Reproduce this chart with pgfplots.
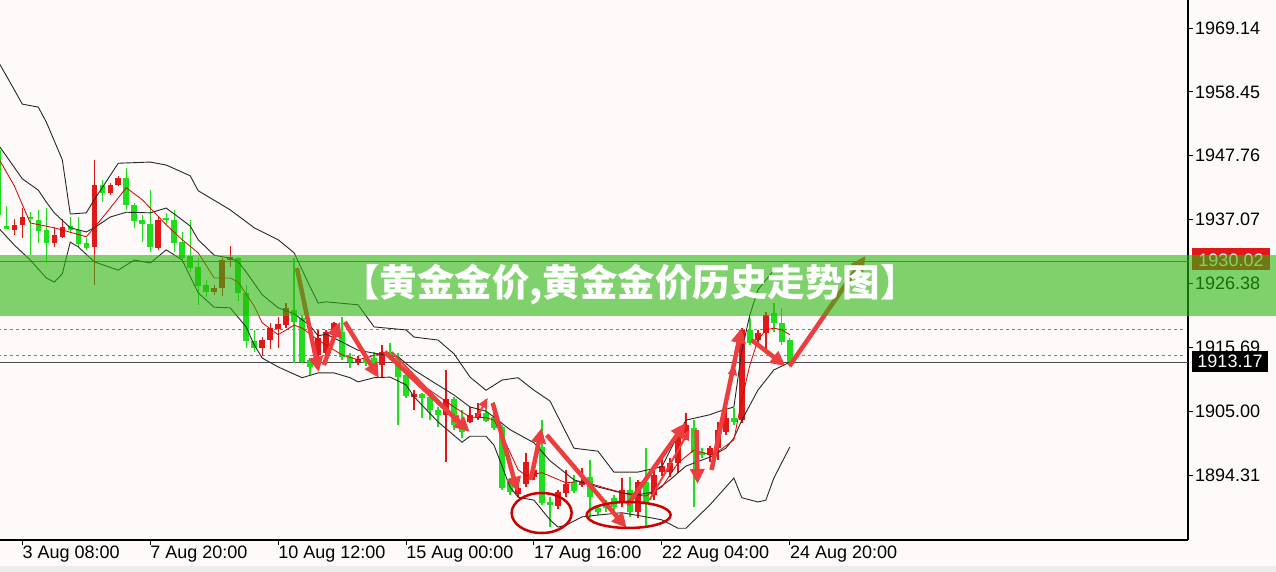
\documentclass[border=0pt]{standalone}
\usepackage{pgfplots}
\pgfplotsset{compat=1.18}
\usepackage{pgfplotstable}
\usepackage{fontspec}
\setmainfont{Liberation Sans}
\newfontfamily\cjk{Noto Sans CJK SC}
\usetikzlibrary{arrows.meta}

\definecolor{bg}{RGB}{253,250,249}
\definecolor{cgreen}{RGB}{30,222,30}
\definecolor{cred}{RGB}{226,24,24}
\definecolor{band}{RGB}{42,183,13}
\definecolor{arr}{RGB}{236,62,62}
\definecolor{bb}{RGB}{40,40,40}
\definecolor{dashc}{RGB}{110,140,110}
\definecolor{lvl}{RGB}{70,120,50}

% i = bar index (4h), lo/hi = wick, bl/bh = body
\pgfplotstableread{
i lo hi bl bh
-3 1935.8 1951.1 1937.8 1948.7
-2 1935.5 1939.4 1935.5 1936.0
1 1931.1 1938.3 1937.1 1937.5
2 1933.2 1938.7 1935.2 1937.0
3 1929.8 1939.0 1933.2 1935.3
6 1934.8 1937.5 1935.3 1936.0
7 1932.5 1937.5 1933.0 1935.3
8 1932.0 1934.0 1932.3 1933.2
10 1940.0 1943.7 1941.5 1942.9
13 1938.7 1945.7 1939.5 1944.0
14 1935.7 1939.9 1936.8 1939.5
15 1933.3 1937.8 1936.3 1937.0
16 1931.6 1942.0 1932.5 1936.3
18 1936.3 1938.2 1937.0 1937.3
19 1931.6 1938.7 1933.2 1937.0
20 1929.8 1935.0 1930.6 1933.3
21 1928.3 1937.0 1929.0 1931.0
22 1922.8 1930.6 1926.0 1929.1
23 1924.1 1927.0 1925.0 1926.1
27 1923.4 1930.8 1924.8 1930.6
28 1915.6 1926.1 1916.8 1924.8
29 1914.9 1918.6 1915.6 1916.8
34 1913.1 1930.6 1919.9 1921.9
35 1913.1 1921.1 1913.2 1920.6
36 1911.1 1913.9 1912.4 1913.6
40 1913.6 1920.8 1914.1 1918.3
41 1912.2 1914.7 1913.2 1914.1
43 1912.6 1914.4 1913.1 1913.7
44 1912.2 1914.9 1912.9 1913.9
46 1913.6 1916.4 1914.1 1914.9
47 1902.7 1914.7 1910.7 1913.9
48 1907.2 1911.6 1907.5 1911.1
50 1903.9 1908.0 1907.2 1907.9
51 1903.5 1907.7 1905.2 1907.4
52 1902.4 1905.7 1904.4 1905.2
54 1901.9 1907.4 1902.7 1907.0
55 1900.5 1905.2 1901.5 1902.4
58 1903.2 1907.0 1903.4 1904.7
59 1901.9 1906.5 1902.2 1904.0
60 1891.8 1902.7 1892.1 1902.4
61 1891.0 1893.8 1891.5 1893.1
65 1889.3 1903.5 1889.6 1899.0
66 1885.6 1890.6 1889.3 1889.8
69 1891.3 1894.3 1891.6 1893.1
71 1887.1 1896.8 1890.6 1894.0
72 1887.6 1889.3 1888.1 1888.8
73 1888.1 1890.1 1888.8 1889.6
74 1888.5 1891.0 1889.0 1890.5
76 1887.3 1894.0 1888.1 1891.8
78 1885.6 1898.8 1889.8 1893.1
84 1889.0 1903.5 1898.0 1902.2
85 1897.2 1898.8 1897.7 1898.2
89 1902.7 1905.5 1903.2 1903.9
91 1916.1 1920.6 1916.4 1918.6
94 1918.3 1923.1 1919.8 1921.4
95 1916.1 1922.3 1916.6 1919.8
96 1912.4 1917.3 1913.2 1916.9
}\greenbars

\pgfplotstableread{
i lo hi bl bh
-1 1934.5 1937.2 1935.3 1936.2
0 1934.0 1939.0 1936.2 1937.5
4 1932.5 1935.8 1933.2 1934.5
5 1934.0 1937.2 1934.2 1935.8
9 1926.1 1947.1 1932.5 1942.9
11 1941.2 1943.2 1941.5 1942.9
12 1942.7 1944.4 1942.9 1944.0
17 1932.0 1937.5 1932.3 1937.0
24 1924.5 1926.1 1925.0 1925.6
25 1924.3 1930.6 1925.6 1930.3
26 1929.1 1932.7 1930.3 1930.8
30 1914.2 1917.4 1915.6 1916.9
31 1915.4 1919.8 1916.9 1918.9
32 1915.6 1920.8 1918.8 1919.6
33 1918.9 1923.1 1919.4 1922.3
37 1913.6 1918.6 1914.4 1917.3
38 1914.1 1918.6 1914.7 1918.3
39 1917.3 1919.9 1917.8 1919.8
42 1912.7 1914.2 1913.2 1913.7
45 1910.7 1916.1 1912.7 1914.9
49 1905.2 1908.5 1907.4 1907.9
53 1896.5 1911.9 1904.4 1907.0
56 1903.0 1905.7 1903.2 1904.4
57 1903.5 1906.4 1903.9 1904.7
62 1890.6 1892.6 1891.1 1892.1
63 1892.3 1898.0 1892.8 1896.5
64 1893.5 1896.0 1894.0 1895.2
67 1888.6 1891.8 1889.1 1891.5
68 1890.6 1895.2 1891.3 1892.8
70 1892.3 1895.5 1892.6 1893.1
75 1889.0 1893.8 1889.8 1891.8
77 1887.1 1893.5 1888.1 1893.1
79 1890.1 1895.7 1891.0 1894.3
80 1894.2 1897.2 1894.8 1895.8
81 1894.0 1897.2 1894.8 1896.3
82 1894.7 1902.4 1896.3 1901.5
83 1900.2 1904.7 1901.4 1902.7
86 1896.5 1899.2 1897.7 1898.8
87 1896.8 1903.2 1898.8 1901.9
88 1901.0 1905.2 1901.5 1903.9
90 1903.0 1918.9 1903.5 1918.6
92 1915.7 1918.6 1916.9 1918.1
93 1914.7 1921.6 1918.1 1921.1
}\redbars

\pgfplotstableread{
i p
-3 1963.5
-1 1958.8
0 1956.4
2 1955.9
3 1953.4
5 1947.1
6 1938.0
8 1938.2
9 1940.4
12 1946.5
16 1946.7
18 1946.2
21 1944.4
22 1941.9
26 1938.7
29 1935.7
32 1933.7
34 1931.5
36 1925.8
37 1923.1
38 1923.3
42 1922.8
44 1919.1
48 1918.6
49 1917.4
52 1916.9
54 1914.6
56 1910.7
58 1908.5
60 1910.2
62 1910.6
64 1908.5
66 1906.7
69 1898.8
72 1898.3
74 1894.8
77 1894.8
80 1895.7
82 1901.0
83 1903.5
86 1904.4
87 1904.9
89 1905.7
90 1915.2
91 1921.1
92 1925.3
94 1928.6
95 1928.3
96 1927.3
}\bbtop

\pgfplotstableread{
i p
-3 1949.6
0 1943.9
2 1942.0
3 1940.0
4 1938.2
6 1935.7
8 1935.0
9 1935.7
11 1937.5
13 1938.3
16 1938.2
18 1939.0
21 1936.0
22 1933.7
24 1931.1
26 1930.6
27 1930.0
28 1928.3
30 1924.5
32 1922.3
34 1921.3
36 1919.3
37 1917.6
38 1917.9
42 1915.2
44 1914.7
47 1914.1
49 1911.9
51 1910.2
54 1907.7
56 1905.7
58 1905.0
59 1904.0
61 1901.9
64 1899.7
66 1896.7
69 1893.5
72 1892.3
75 1891.3
77 1891.0
79 1891.5
81 1893.5
83 1895.8
86 1897.3
88 1898.8
89 1900.5
90 1903.5
92 1908.5
94 1911.9
96 1913.2
}\bbmid

\pgfplotstableread{
i p
-3 1935.7
-1 1932.8
1 1930.3
3 1927.3
4 1926.6
5 1928.0
6 1933.3
7 1932.5
9 1930.0
12 1928.6
14 1930.3
16 1929.8
18 1932.0
20 1930.3
22 1924.8
24 1922.4
26 1922.3
28 1919.1
29 1916.1
30 1913.9
32 1912.4
35 1910.6
37 1911.4
39 1911.4
41 1910.6
42 1909.9
44 1910.6
46 1910.7
48 1909.4
49 1907.4
52 1903.2
55 1899.8
56 1900.8
58 1900.8
59 1899.3
61 1892.3
62 1890.6
64 1890.1
66 1886.8
67 1885.6
68 1885.9
70 1887.3
72 1887.6
75 1888.0
78 1887.3
80 1886.8
82 1885.4
83 1885.4
86 1889.3
88 1892.3
89 1893.8
90 1890.5
92 1889.8
93 1890.1
94 1893.8
96 1899.0
}\bbbot

\pgfplotstableread{
i p
-3 1947.4
-1 1942.7
1 1936.5
4 1935.7
8 1934.2
9 1935.7
11 1939.0
13 1942.4
15 1940.4
16 1939.0
18 1936.2
20 1933.7
22 1931.5
24 1927.3
26 1927.3
27 1926.6
29 1922.6
30 1919.8
32 1917.8
34 1919.4
35 1918.9
37 1916.9
40 1914.4
42 1913.6
45 1914.7
47 1913.2
50 1909.4
54 1905.7
56 1904.0
58 1903.9
59 1903.5
60 1901.0
62 1895.2
63 1894.2
65 1894.7
68 1893.0
70 1893.3
73 1892.1
76 1891.0
78 1890.8
80 1892.3
82 1896.3
84 1898.5
86 1897.7
87 1898.2
89 1900.2
90 1907.0
91 1912.7
92 1916.9
93 1918.6
94 1918.9
95 1918.6
96 1917.8
}\maline

\begin{document}
\begin{tikzpicture}
\useasboundingbox (0,0) rectangle (1276bp,572bp);
\fill[bg] (0,0) rectangle (1276bp,572bp);
\fill[black!7] (0,0) rectangle (1276bp,6bp);

\begin{axis}[
    at={(0,32bp)}, anchor=south west,
    scale only axis, width=1188bp, height=540bp,
    xmin=-2.79, xmax=145.8, ymin=1883.43, ymax=1973.83,
    axis x line*=bottom, axis y line*=right,
    axis line style={-, black, line width=1.2bp},
    tick align=outside, major tick length=5bp,
    tick style={black, line width=1bp},
    xtick={0,16,32,48,64,80,96},
    xticklabels={3 Aug 08:00,7 Aug 20:00,10 Aug 12:00,15 Aug 00:00,17 Aug 16:00,22 Aug 04:00,24 Aug 20:00},
    xticklabel style={anchor=north west, xshift=-1bp, inner sep=1bp, font=\fontsize{18bp}{20bp}\selectfont},
    ytick={1894.31,1905.00,1915.69,1926.38,1937.07,1947.76,1958.45,1969.14},
    yticklabels={1894.31,1905.00,1915.69,1926.38,1937.07,1947.76,1958.45,1969.14},
    yticklabel style={anchor=west, inner sep=1bp, xshift=1bp, font=\fontsize{18bp}{20bp}\selectfont},
    candle/.style={draw=none, mark=none, error bars/.cd, y dir=both, y explicit, error mark=none},
]
% price levels
\addplot[dashc, line width=1bp, dash pattern=on 3bp off 3bp] coordinates {(-3,1918.6) (145.4,1918.6)};
\addplot[dashc, line width=1bp, dash pattern=on 3bp off 3bp] coordinates {(-3,1914.4) (145.4,1914.4)};
\addplot[black!70, line width=1.3bp] coordinates {(-3,1913.17) (146,1913.17)};
\addplot[lvl, line width=1.5bp] coordinates {(-3,1930.02) (146,1930.02)};

% candles: wicks, then bodies
\addplot[candle, error bar style={draw=cgreen, line width=1.3bp}]
  table[x=i, y expr={(\thisrow{hi}+\thisrow{lo})/2}, y error expr={(\thisrow{hi}-\thisrow{lo})/2}] {\greenbars};
\addplot[candle, error bar style={draw=cred, line width=1.3bp}]
  table[x=i, y expr={(\thisrow{hi}+\thisrow{lo})/2}, y error expr={(\thisrow{hi}-\thisrow{lo})/2}] {\redbars};
\addplot[candle, error bar style={draw=cgreen, line width=5.5bp}]
  table[x=i, y expr={(\thisrow{bh}+\thisrow{bl})/2}, y error expr={(\thisrow{bh}-\thisrow{bl})/2}] {\greenbars};
\addplot[candle, error bar style={draw=cred, line width=5.5bp}]
  table[x=i, y expr={(\thisrow{bh}+\thisrow{bl})/2}, y error expr={(\thisrow{bh}-\thisrow{bl})/2}] {\redbars};

% Bollinger bands and moving average
\addplot[bb, line width=0.9bp] table[x=i, y=p] {\bbtop};
\addplot[bb, line width=0.9bp] table[x=i, y=p] {\bbmid};
\addplot[bb, line width=0.9bp] table[x=i, y=p] {\bbbot};
\addplot[red!85!black, line width=0.8bp] table[x=i, y=p] {\maline};

% hand drawn arrows
\pgfplotsset{
  arrowst/.style={arr, line width=4.5bp, -{Triangle[length=15bp, width=14bp]}},
  arrowthin/.style={arr, line width=2bp, -{Triangle[length=10bp, width=9bp]}},
}
\addplot[arrowst] coordinates {(34.34,1928.97) (37.09,1911.56)};
\addplot[arrowst] coordinates {(37.71,1912.73) (39.71,1919.93)};
\addplot[arrowst] coordinates {(40.34,1919.93) (44.59,1910.55)};
\addplot[arrowst] coordinates {(45.34,1914.91) (55.96,1901.51)};
\addplot[arrowthin] coordinates {(46.21,1914.91) (54.96,1902.68)};
\addplot[arrowthin] coordinates {(56.84,1904.02) (58.21,1907.20)};
\addplot[arrowst] coordinates {(58.84,1906.37) (61.96,1891.47)};
\addplot[arrowst] coordinates {(63.59,1893.48) (64.96,1902.18)};
\addplot[arrowst] coordinates {(65.59,1901.01) (75.59,1885.44)};
\addplot[arrowst] coordinates {(75.71,1889.29) (82.96,1903.02)};
\addplot[arrowthin] coordinates {(78.46,1890.13) (83.46,1901.85)};
\addplot[arrowst] coordinates {(84.34,1901.85) (84.46,1892.81)};
\addplot[arrowst] coordinates {(86.21,1895.15) (89.96,1918.92)};
\addplot[arrowthin] coordinates {(86.59,1897.66) (89.09,1912.73)};
\addplot[arrowst] coordinates {(91.21,1916.91) (95.46,1912.56)};
\addplot[arrowst] coordinates {(95.96,1912.56) (105.46,1930.98)};

\draw[red!80!black, line width=2.5bp] (axis cs:64.96,1887.95) ellipse [x radius=30bp, y radius=20bp];
\draw[red!80!black, line width=2.5bp] (axis cs:75.84,1887.62) ellipse [x radius=42bp, y radius=13bp];
\end{axis}

% price tags on the right axis
\fill[cred] (1192bp,302bp) rectangle (1270bp,324bp);
\node[white, inner sep=0pt, font=\fontsize{18bp}{20bp}\selectfont] at (1231bp,312bp) {1930.02};
\fill[black] (1192bp,200bp) rectangle (1268bp,221bp);
\node[white, inner sep=0pt, font=\fontsize{18bp}{20bp}\selectfont] at (1230bp,210.5bp) {1913.17};

% title banner
\fill[band, opacity=0.6] (0,256bp) rectangle (1276bp,317bp);
\node[white, inner sep=0pt, font={\cjk\bfseries\fontsize{37.5bp}{40bp}\selectfont}] at (630bp,287bp) {【黄金金价,黄金金价历史走势图】};
\end{tikzpicture}
\end{document}
